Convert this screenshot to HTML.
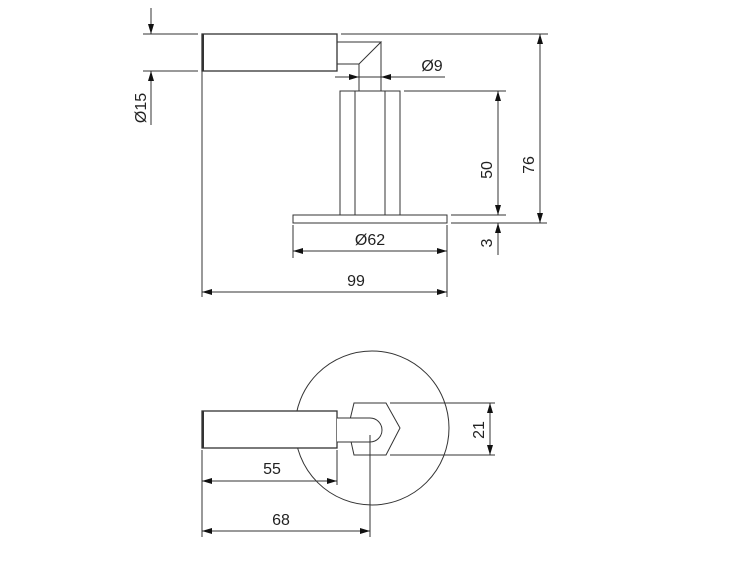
<!DOCTYPE html>
<html><head><meta charset="utf-8"><style>html,body{margin:0;padding:0;background:#fff}svg{display:block}svg text{font-family:"Liberation Sans",Arial,sans-serif;font-size:16px;fill:#222;stroke:none}</style></head><body>
<svg width="750" height="563" viewBox="0 0 750 563" xmlns="http://www.w3.org/2000/svg" fill="none" stroke="#333" stroke-width="1">
<defs><marker id="a" viewBox="0 0 10 6" refX="10" refY="3" markerWidth="10" markerHeight="6" orient="auto-start-reverse" markerUnits="userSpaceOnUse"><path d="M0,0L10,3L0,6z" fill="#111" stroke="none"/></marker></defs>
<!-- top view -->
<rect x="202" y="34" width="135" height="37" stroke-width="1.3"/>
<line x1="203" y1="34" x2="203" y2="71" stroke-width="2"/>
<path d="M337,42H381L359,64H337M359,64V91M381,42V91"/>
<rect x="340" y="91" width="60" height="124"/>
<line x1="355" y1="91" x2="355" y2="215"/><line x1="385" y1="91" x2="385" y2="215"/>
<rect x="293" y="215" width="154" height="8"/>
<!-- Ø15 -->
<line x1="143" y1="34" x2="198" y2="34"/><line x1="143" y1="71" x2="198" y2="71"/>
<line x1="151" y1="8" x2="151" y2="34" marker-end="url(#a)"/>
<line x1="151" y1="125" x2="151" y2="71" marker-end="url(#a)"/>
<text x="146" y="108" transform="rotate(-90 146 108)" text-anchor="middle">Ø15</text>
<!-- Ø9 -->
<line x1="335" y1="77" x2="359" y2="77" marker-end="url(#a)"/>
<line x1="445" y1="77" x2="381" y2="77" marker-end="url(#a)"/>
<line x1="359" y1="77" x2="381" y2="77"/>
<text x="432" y="71" text-anchor="middle">Ø9</text>
<!-- right dims -->
<line x1="341" y1="34" x2="548" y2="34"/>
<line x1="404" y1="91" x2="506" y2="91"/>
<line x1="451" y1="215" x2="506" y2="215"/>
<line x1="451" y1="223" x2="547" y2="223"/>
<line x1="540" y1="34" x2="540" y2="223" marker-start="url(#a)" marker-end="url(#a)"/>
<line x1="498" y1="91" x2="498" y2="215" marker-start="url(#a)" marker-end="url(#a)"/>
<line x1="498" y1="255" x2="498" y2="223" marker-end="url(#a)"/>
<text x="534" y="165" transform="rotate(-90 534 165)" text-anchor="middle">76</text>
<text x="492" y="170" transform="rotate(-90 492 170)" text-anchor="middle">50</text>
<text x="492" y="243" transform="rotate(-90 492 243)" text-anchor="middle">3</text>
<!-- Ø62, 99 -->
<line x1="293" y1="225" x2="293" y2="258"/><line x1="447" y1="225" x2="447" y2="297"/>
<line x1="293" y1="251" x2="447" y2="251" marker-start="url(#a)" marker-end="url(#a)"/>
<text x="370" y="245" text-anchor="middle">Ø62</text>
<line x1="202" y1="71" x2="202" y2="297"/>
<line x1="202" y1="292" x2="447" y2="292" marker-start="url(#a)" marker-end="url(#a)"/>
<text x="356" y="286" text-anchor="middle">99</text>
<!-- bottom view -->
<circle cx="372" cy="428" r="77"/>
<path d="M354,403H386L400,428L386,455H354L348,428Z"/>
<rect x="202" y="411" width="135" height="37" fill="#fff" stroke-width="1.3"/>
<line x1="203" y1="411" x2="203" y2="448" stroke-width="2"/>
<path d="M337,418H370A12,12 0 0 1 370,442H337" fill="#fff"/>
<line x1="390" y1="403" x2="495" y2="403"/><line x1="390" y1="455" x2="495" y2="455"/>
<line x1="490" y1="403" x2="490" y2="455" marker-start="url(#a)" marker-end="url(#a)"/>
<text x="484" y="430" transform="rotate(-90 484 430)" text-anchor="middle">21</text>
<line x1="202" y1="450" x2="202" y2="537"/><line x1="337" y1="450" x2="337" y2="485"/>
<line x1="370" y1="435" x2="370" y2="537"/>
<line x1="202" y1="481" x2="337" y2="481" marker-start="url(#a)" marker-end="url(#a)"/>
<text x="272" y="474" text-anchor="middle">55</text>
<line x1="202" y1="531" x2="370" y2="531" marker-start="url(#a)" marker-end="url(#a)"/>
<text x="281" y="525" text-anchor="middle">68</text>
</svg>
</body></html>
